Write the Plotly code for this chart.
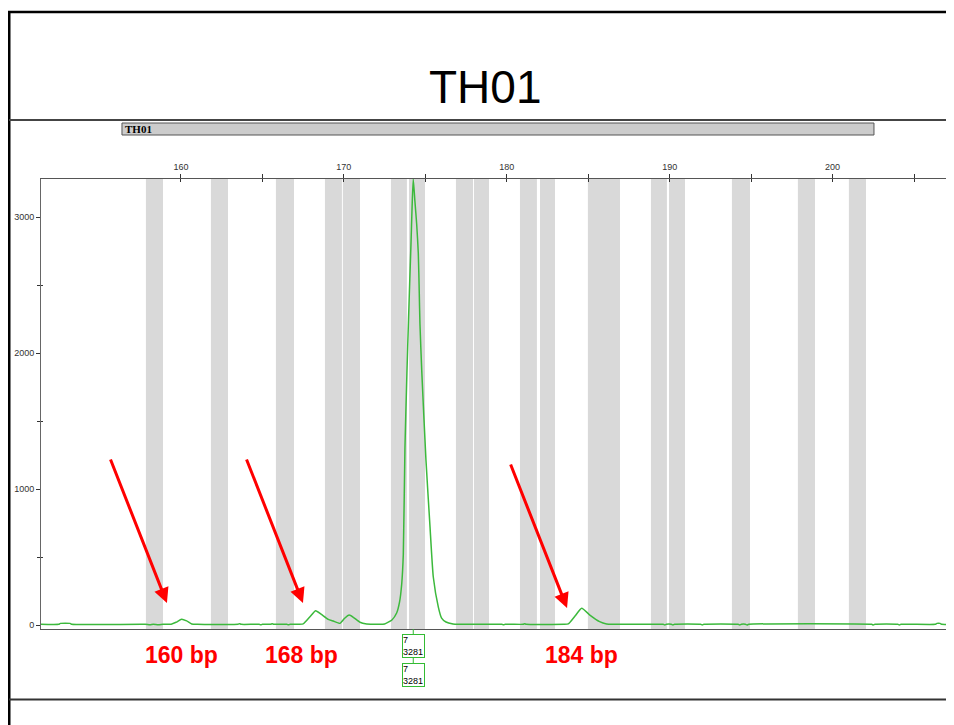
import plotly.graph_objects as go

# ---------------- data ----------------
size_bp = [151.4, 152.5, 152.6, 153.2, 153.3, 157.8, 158.1, 158.3, 158.6, 158.9,
           159.4, 159.7, 160.04, 160.35, 160.66, 161.0, 163.5, 163.6, 163.7, 164.8,
           164.9, 165.0, 165.5, 165.6, 165.7, 166.5, 166.6, 166.7, 167.5, 167.92,
           168.27, 168.6, 169.04, 169.35, 169.76, 170.05, 170.33, 170.6, 170.99, 171.4,
           172.2, 172.5, 172.95, 173.24, 173.42, 173.55, 173.65, 173.75, 173.87, 173.97,
           174.05, 174.12, 174.19, 174.26, 174.36, 174.47, 174.57, 174.63, 174.67, 174.78,
           175.04, 175.29, 175.49, 175.80, 176.0, 176.27, 176.7, 177.0, 179.7, 179.8,
           179.9, 181.0, 181.1, 181.2, 183.5, 183.78, 184.19, 184.6, 185.1, 185.7,
           186.13, 186.5, 189.6, 189.7, 189.8, 190.1, 190.2, 190.3, 191.9, 192.0,
           192.1, 194.2, 194.3, 194.4, 194.65, 194.75, 194.85, 202.4, 202.5, 202.6,
           204.0, 204.1, 204.2, 206.3, 206.4, 206.6, 206.7, 207.33]
rfu = [5, 5, 12, 12, 5, 5, 1, 6, 2, 5,
       6, 20, 42, 30, 8, 5, 5, 10, 5, 5,
       1, 5, 5, 9, 5, 5, 1, 5, 8, 61,
       105, 80, 42, 29, 12, 50, 73, 55, 20, 8,
       5, 8, 37, 88, 170, 300, 520, 1300, 1850, 2250,
       2550, 2800, 3080, 3281, 3120, 2950, 2735, 2441, 2220, 1875,
       1213, 720, 353, 132, 51, 22, 8, 5, 5, 1,
       5, 5, 9, 5, 5, 8, 66, 123, 73, 25,
       8, 5, 5, 0, 5, 5, 0, 5, 5, 0,
       5, 5, 0, 5, 5, 0, 5, 5, 0, 5,
       5, 0, 5, 5, 12, 12, 5, 5]

bin_starts = [157.85, 161.84, 165.83, 168.84, 169.94, 172.89, 174.0, 176.88, 177.99,
              180.81, 182.04, 184.98, 188.85, 189.96, 193.82, 197.87, 201.0]
bin_ends = [158.9, 162.89, 166.94, 169.88, 170.99, 173.87, 174.98, 177.93, 178.91,
            181.85, 182.96, 186.95, 189.83, 190.94, 194.93, 198.92, 202.05]

marker_name = "TH01"
marker_range = [156.38, 202.54]

x_major_ticks = [160, 170, 180, 190, 200]
x_minor_ticks = [165, 175, 185, 195, 205]
y_major_ticks = [0, 1000, 2000, 3000]
y_minor_ticks = [500, 1500, 2500]

called_allele = "7"
called_size = 174.26
called_height = 3281

arrow_targets_bp = [159.14, 167.49, 183.7]
arrow_targets_rfu = [162, 162, 125]
peak_labels = ["160 bp", "168 bp", "184 bp"]
peak_label_bp = [160.06, 167.43, 184.6]

# ---------------- geometry helpers ----------------
# the page body has an 8px default margin, so the figure is drawn 8px in/down
OFF = 8
W, H = 954 - OFF, 725 - OFF
PL_REF, PR_REF, PT_REF, PB_REF = 41, 952, 179, 629   # plot area in window pixels
L = PL_REF - OFF
T = PT_REF - OFF
R = W - (PR_REF - OFF)
B = H - (PB_REF - OFF)
PW, PH = PR_REF - PL_REF, PB_REF - PT_REF
X_RANGE = [151.41, 207.33]
Y_RANGE = [-29.4, 3281]


def px(xp):
    return (xp - PL_REF) / PW


def py(yp):
    return (PB_REF - yp) / PH


fig = go.Figure()
fig.add_trace(go.Scatter(
    x=size_bp, y=rfu, mode="lines",
    line=dict(color="#3cb93c", width=1.5, shape="spline", smoothing=0.5),
    hoverinfo="skip", showlegend=False))
# invisible companion trace so the tick-crossing overlay axes are drawn
fig.add_trace(go.Scatter(x=size_bp[:1], y=rfu[:1], xaxis="x2", yaxis="y2", mode="lines",
                         line=dict(width=0), hoverinfo="skip", showlegend=False))

shapes = []
# allele bins
for s, e in zip(bin_starts, bin_ends):
    shapes.append(dict(type="rect", xref="x", yref="paper", x0=s, x1=e, y0=0, y1=1,
                       fillcolor="#d9d9d9", line=dict(width=0), layer="below"))
# marker bar
shapes.append(dict(type="rect", xref="x", yref="paper", x0=marker_range[0], x1=marker_range[1],
                   y0=py(135), y1=py(123), fillcolor="#cccccc",
                   line=dict(color="#555555", width=1)))
# frame lines
shapes.append(dict(type="line", xref="paper", yref="paper", x0=px(9), x1=px(9), y0=py(11), y1=py(730),
                   line=dict(color="black", width=3)))
shapes.append(dict(type="line", xref="paper", yref="paper", x0=px(8), x1=px(960), y0=py(12), y1=py(12),
                   line=dict(color="black", width=2.5)))
shapes.append(dict(type="line", xref="paper", yref="paper", x0=px(9), x1=px(960), y0=py(120), y1=py(120),
                   line=dict(color="#444444", width=2)))
shapes.append(dict(type="line", xref="paper", yref="paper", x0=px(9), x1=px(960), y0=py(699.5), y1=py(699.5),
                   line=dict(color="#333333", width=2)))
# allele call stems
shapes.append(dict(type="line", xref="x", yref="paper", x0=called_size, x1=called_size,
                   y0=py(629), y1=py(634), line=dict(color="#33bb33", width=1)))
shapes.append(dict(type="line", xref="x", yref="paper", x0=called_size, x1=called_size,
                   y0=py(658), y1=py(663), line=dict(color="#33bb33", width=1)))

annotations = []
annotations.append(dict(text="TH01", xref="paper", yref="paper", x=px(485), y=py(87),
                        xanchor="center", yanchor="middle", showarrow=False,
                        font=dict(family="Liberation Sans, Arial", size=46, color="black")))
annotations.append(dict(text="<b>" + marker_name + "</b>", xref="x", yref="paper",
                        x=marker_range[0], y=py(129), xanchor="left", yanchor="middle",
                        xshift=1, showarrow=False,
                        font=dict(family="Liberation Serif, Times New Roman", size=11, color="black")))
for bx, by in zip(arrow_targets_bp, arrow_targets_rfu):
    annotations.append(dict(x=bx, y=by, xref="x", yref="y", ax=-57, ay=-145,
                            showarrow=True, arrowhead=2, arrowsize=1, arrowwidth=3,
                            arrowcolor="#ff0000", text=""))
for lbl, lx in zip(peak_labels, peak_label_bp):
    annotations.append(dict(text="<b>" + lbl + "</b>", x=lx, xref="x", yref="paper", y=py(655),
                            xanchor="center", yanchor="middle", showarrow=False,
                            font=dict(family="Liberation Sans, Arial", size=23, color="#ff0000")))
for ytop in (634, 663):
    annotations.append(dict(text=called_allele + "<br>" + str(called_height), x=called_size,
                            xref="x", yref="paper", y=py(ytop), xanchor="center", yanchor="top",
                            showarrow=False, align="left", width=21, height=22,
                            bordercolor="#33bb33", borderwidth=1, borderpad=0, bgcolor="white",
                            font=dict(family="Liberation Sans, Arial", size=9, color="black")))

tick_font = dict(family="Liberation Sans, Arial", size=9, color="#333333")
fig.update_layout(
    width=W, height=H,
    margin=dict(l=L, r=R, t=T, b=B),
    paper_bgcolor="white", plot_bgcolor="white",
    shapes=shapes, annotations=annotations,
    showlegend=False,
    xaxis=dict(range=X_RANGE, side="top", showgrid=False, zeroline=False,
               showline=True, linecolor="#555555", linewidth=1, mirror=True,
               tickmode="array", tickvals=x_major_ticks, ticks="outside", ticklen=4,
               tickcolor="#333333",
               minor=dict(tickmode="array", tickvals=x_minor_ticks, ticks="outside",
                          ticklen=4, tickcolor="#333333"),
               tickfont=tick_font),
    xaxis2=dict(range=X_RANGE, side="top", overlaying="x", anchor="y", showgrid=False,
                zeroline=False, showline=False, showticklabels=False,
                tickmode="array", tickvals=x_major_ticks + x_minor_ticks, ticks="inside",
                ticklen=3, tickcolor="#333333"),
    yaxis=dict(range=Y_RANGE, showgrid=False, zeroline=False,
               showline=True, linecolor="#666666", linewidth=1, mirror=True,
               tickmode="array", tickvals=y_major_ticks, ticks="outside", ticklen=4,
               tickcolor="#333333",
               minor=dict(tickmode="array", tickvals=y_minor_ticks, ticks="outside",
                          ticklen=3, tickcolor="#333333"),
               tickfont=tick_font),
    yaxis2=dict(range=Y_RANGE, overlaying="y", anchor="x", side="left", showgrid=False,
                zeroline=False, showline=False, showticklabels=False,
                tickmode="array", tickvals=y_minor_ticks, ticks="inside",
                ticklen=2, tickcolor="#333333"),
)

fig.write_html("out.html")
